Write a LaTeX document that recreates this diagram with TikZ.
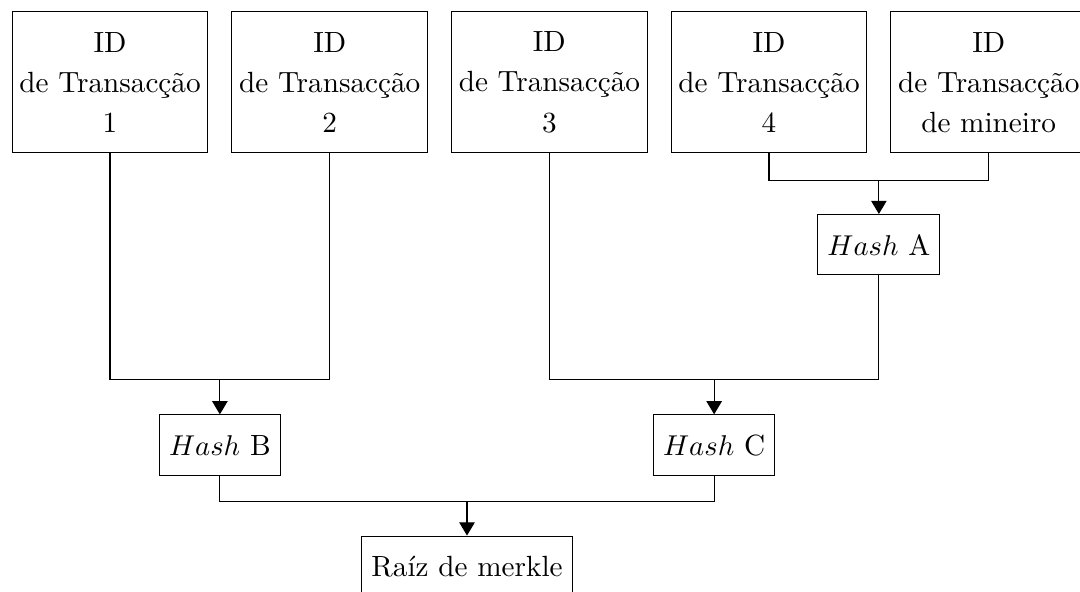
\documentclass[tikz,border=0pt]{standalone}
\usepackage{fontspec}
\usetikzlibrary{arrows.meta}
\usetikzlibrary{calc}

\begin{document}
\begin{tikzpicture}[font=\fontsize{10.2pt}{12.2pt}\selectfont,
	box/.style={draw, align=center, inner xsep=1pt, minimum width=2.4cm, minimum height=1.73cm},
	hbox/.style={draw, minimum height=0.74cm},
	>={Triangle[width=5.4pt,length=4.6pt]}]

		\useasboundingbox (0,0) rectangle (13.25,-7.26);

		\coordinate (T1) at (1.35,-1.01) ;
		\coordinate (T2) at (4.045,-1.01) ;
		\coordinate (T3) at (6.74,-1.01) ;
		\coordinate (T4) at (9.435,-1.01) ;
		\coordinate (T5) at (12.13,-1.01) ;

		\node [box] (t1) at (T1) {ID\\[1.8pt] de Transacção\\[1.8pt] 1};
		\node [box] (t2) at (T2) {ID\\[1.8pt] de Transacção\\[1.8pt] 2};
		\node [box] (t3) at (T3) {ID\\[1.8pt] de Transacção\\[1.8pt] 3};
		\node [box] (t4) at (T4) {ID\\[1.8pt] de Transacção\\[1.8pt] 4};
		\node [box] (t5) at (T5) {ID\\[1.8pt] de Transacção\\[1.8pt] de mineiro};

		\coordinate (J45) at ($(t4.south)!0.5!(t5.south) + (0,-0.33)$);
		\node [hbox] (hA) at ($(J45) + (0,-0.79)$) {$Hash$ A};

		\coordinate (J12) at ($(t1.south)!0.5!(t2.south)$);
		\coordinate (J12) at (J12 |- 0,-4.66);
		\coordinate (J3A) at ($(t3.south)!0.5!(hA.south)$);
		\coordinate (J3A) at (J3A |- 0,-4.66);

		\node [hbox] (hB) at ($(J12) + (0,-0.80)$) {$Hash$ B};
		\node [hbox] (hC) at ($(J3A) + (0,-0.80)$) {$Hash$ C};

		\coordinate (JBC) at ($(hB.south)!0.5!(hC.south) + (0,-0.32)$);
		\node [draw, minimum height=0.74cm] (root) at ($(JBC) + (0,-0.79)$) {Raíz de merkle};

		\draw (t4.south) |- (J45) -| (t5.south);
		\draw [->] (J45) -- (hA.north);

		\draw (t1.south) |- (J12) -| (t2.south);
		\draw [->] (J12) -- (hB.north);

		\draw (t3.south) |- (J3A) -| (hA.south);
		\draw [->] (J3A) -- (hC.north);

		\draw (hB.south) |- (JBC) -| (hC.south);
		\draw [->] (JBC) -- (root.north);

\end{tikzpicture}
\end{document}
